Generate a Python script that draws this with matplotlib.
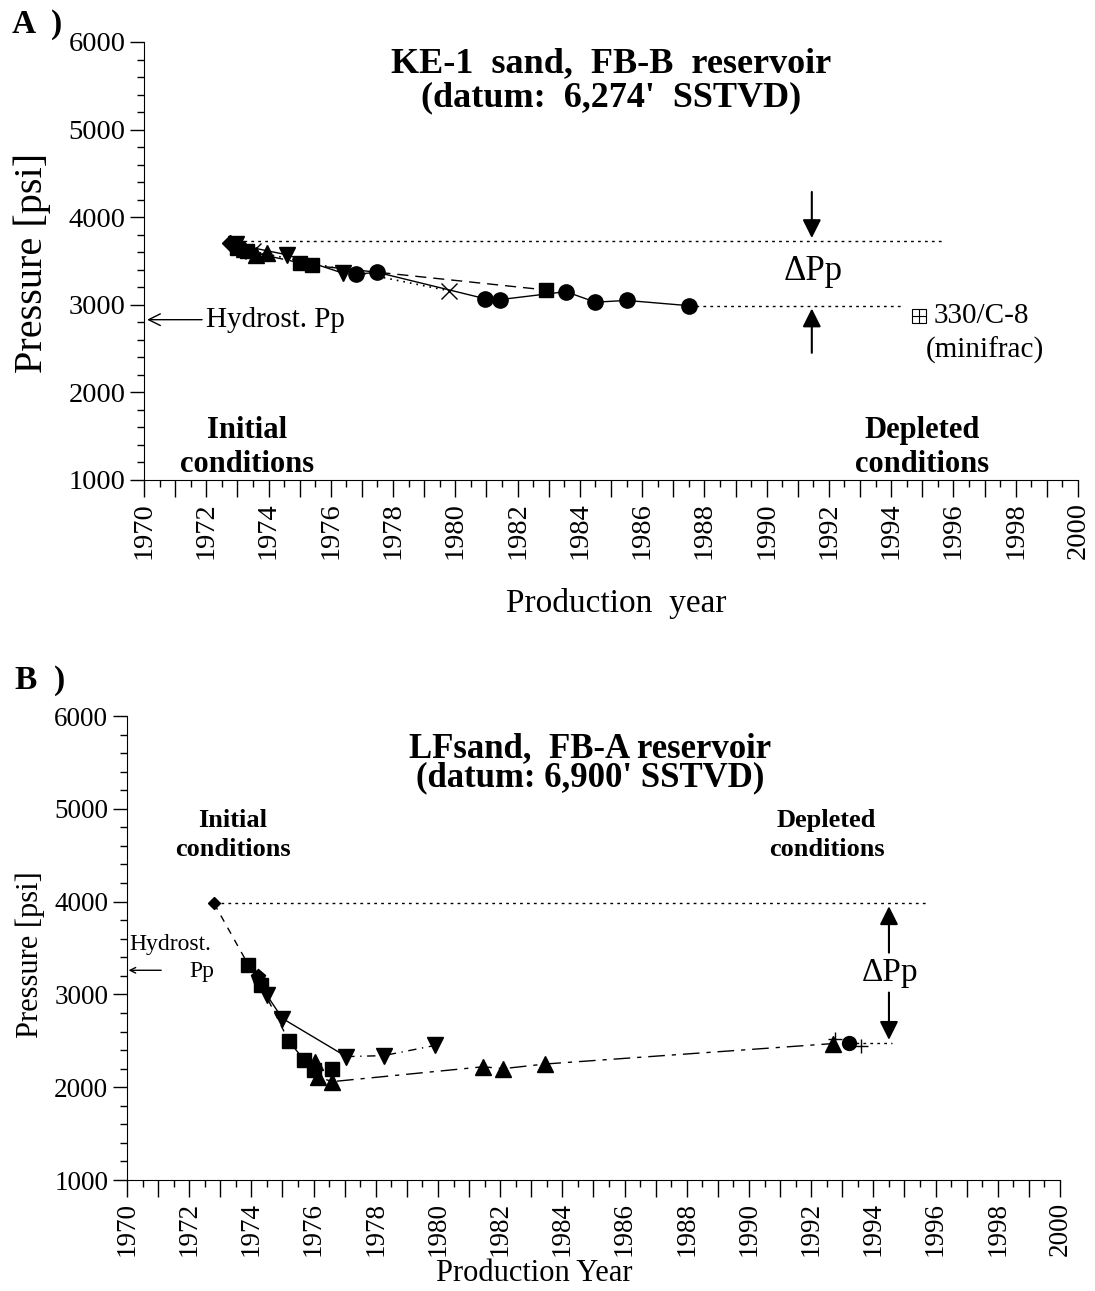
import matplotlib
matplotlib.use("Agg")
import matplotlib.pyplot as plt
from matplotlib.ticker import MultipleLocator, FuncFormatter

plt.rcParams["font.family"] = ["Liberation Serif", "DejaVu Serif"]

# ---- panel A data (KE-1 sand, FB-B reservoir) ----
a_dia_x = [1972.75]
a_dia_y = [3710]
a_sq_x = [1973.0, 1973.3, 1975.0, 1975.4, 1982.9]
a_sq_y = [3650, 3610, 3480, 3450, 3170]
a_up_x = [1973.2, 1973.6, 1973.95]
a_up_y = [3640, 3570, 3590]
a_dn_x = [1972.95, 1974.6, 1976.4]
a_dn_y = [3690, 3570, 3360]
a_x_x = [1973.5, 1979.8]
a_x_y = [3610, 3160]
a_ci_x = [1976.8, 1977.5, 1980.95, 1981.45, 1983.55, 1984.5, 1985.5, 1987.5]
a_ci_y = [3350, 3370, 3070, 3060, 3150, 3030, 3050, 2990]
a_initial = 3730
a_depleted = 2990
a_hydro = 2830
a_minifrac_x = [1994.9]
a_minifrac_y = [2870]

# ---- panel B data (LF sand, FB-A reservoir) ----
b_dia_x = [1972.8]
b_dia_y = [3980]
b_sq_x = [1973.9, 1974.3, 1975.2, 1975.7, 1976.0, 1976.6]
b_sq_y = [3320, 3100, 2500, 2290, 2190, 2200]
b_pe_x = [1974.2]
b_pe_y = [3190]
b_dn_x = [1974.5, 1975.0, 1977.05, 1978.25, 1979.9]
b_dn_y = [2990, 2740, 2330, 2340, 2450]
b_up_x = [1976.05, 1976.15, 1976.6, 1981.45, 1982.1, 1983.45, 1992.7]
b_up_y = [2270, 2110, 2060, 2220, 2200, 2250, 2470]
b_ci_x = [1993.2]
b_ci_y = [2480]
b_pl_x = [1992.75, 1993.6]
b_pl_y = [2520, 2440]
b_initial = 3980
b_depleted = 2480
b_hydro = 3260


def style_axes(ax, tick_size):
    ax.set_xlim(1970, 2000)
    ax.set_ylim(1000, 6000)
    for s in ("top", "right"):
        ax.spines[s].set_visible(False)
    ax.xaxis.set_major_locator(MultipleLocator(1))
    ax.xaxis.set_minor_locator(MultipleLocator(0.5))
    ax.xaxis.set_major_formatter(
        FuncFormatter(lambda v, p: f"{int(round(v))}" if int(round(v)) % 2 == 0 else ""))
    ax.yaxis.set_major_locator(MultipleLocator(1000))
    ax.yaxis.set_minor_locator(MultipleLocator(200))
    ax.tick_params(axis="x", which="major", direction="out", length=12, width=1,
                   labelsize=tick_size, labelrotation=90, pad=4)
    ax.tick_params(axis="x", which="minor", direction="out", length=5, width=1)
    ax.tick_params(axis="y", which="major", direction="out", length=10, width=1,
                   labelsize=tick_size)
    ax.tick_params(axis="y", which="minor", direction="out", length=5, width=1)


fig = plt.figure(figsize=(10.95, 12.91), dpi=100)

# ================= panel A =================
ax = fig.add_axes([144 / 1095, 1 - 480 / 1291, 934 / 1095, 438 / 1291])
style_axes(ax, 20.5)

ax.plot([a_dia_x[0], 1995.7], [a_initial, a_initial], ls=(0, (2, 3)), color="k", lw=1)
ax.plot([a_ci_x[-1], 1994.3], [a_depleted, a_depleted], ls=(0, (2, 3)), color="k", lw=1)

ax.plot(a_sq_x, a_sq_y, ls=(0, (8, 5)), color="k", lw=1, marker="s", ms=10)
ax.plot(a_dn_x, a_dn_y, ls="-", color="k", lw=1, marker="v", ms=11)
ax.plot(a_up_x, a_up_y, ls="-", color="k", lw=1, marker="^", ms=11)
ax.plot(a_x_x, a_x_y, ls=(0, (1, 3)), color="k", lw=1.2, marker="x", ms=11, mew=1)
ax.plot(a_ci_x, a_ci_y, ls="-", color="k", lw=1, marker="o", ms=11)
ax.plot(a_dia_x, a_dia_y, ls="none", color="k", marker="D", ms=8)

ax.plot(a_minifrac_x, a_minifrac_y, ls="none", marker="s", ms=10, mfc="white",
        mec="k", mew=0.8)
ax.plot(a_minifrac_x, a_minifrac_y, ls="none", marker="+", ms=10, color="k", mew=0.8)
ax.text(1995.35, a_minifrac_y[0], "330/C-8", fontsize=21, va="center", ha="left")
ax.text(1995.1, 2480, "(minifrac)", fontsize=21, va="center", ha="left")

ax.annotate("", xy=(1991.45, a_initial), xytext=(1991.45, 4320),
            arrowprops=dict(arrowstyle="-|>", color="k", lw=1.5, mutation_scale=28))
ax.annotate("", xy=(1991.45, a_depleted), xytext=(1991.45, 2420),
            arrowprops=dict(arrowstyle="-|>", color="k", lw=1.5, mutation_scale=28))
ax.text(1991.5, 3380, "ΔPp", fontsize=25, ha="center", va="center")

ax.annotate("Hydrost. Pp", xy=(1970.1, a_hydro), xytext=(1972.0, a_hydro),
            fontsize=21, va="center", ha="left",
            arrowprops=dict(arrowstyle="->", color="k", lw=1, shrinkA=1, shrinkB=0))

ax.text(1985.0, 5560, "KE-1  sand,  FB-B  reservoir\n(datum:  6,274'  SSTVD)",
        fontsize=26, fontweight="bold", ha="center", va="center", linespacing=1.05)
ax.text(1973.3, 1370, "Initial\nconditions", fontsize=22, fontweight="bold",
        ha="center", va="center", linespacing=1.2)
ax.text(1995.0, 1370, "Depleted\nconditions", fontsize=22, fontweight="bold",
        ha="center", va="center", linespacing=1.2)

ax.set_ylabel("Pressure [psi]", fontsize=29)
ax.yaxis.set_label_coords(-0.1, 0.495)
ax.set_xlabel("Production  year", fontsize=24)
ax.xaxis.set_label_coords(0.506, -0.247)

fig.text(12 / 1095, 1 - 24 / 1291, "A  )", fontsize=24, fontweight="bold",
         ha="left", va="center")

# ================= panel B =================
bx = fig.add_axes([127 / 1095, 1 - 1180 / 1291, 933 / 1095, 464 / 1291])
style_axes(bx, 19.5)

bx.plot([b_dia_x[0], 1995.7], [b_initial, b_initial], ls=(0, (2, 3)), color="k", lw=1)
bx.plot([b_ci_x[0], 1994.6], [b_depleted, b_depleted], ls=(0, (2, 3)), color="k", lw=1)

bx.plot(b_dia_x + b_sq_x, b_dia_y + b_sq_y, ls=(0, (5, 5)), color="k", lw=1)
bx.plot(b_sq_x, b_sq_y, ls="none", color="k", marker="s", ms=10)
bx.plot(b_pe_x, b_pe_y, ls="none", color="k", marker="p", ms=11)
bx.plot(b_dn_x[:3], b_dn_y[:3], ls="-", color="k", lw=1)
bx.plot(b_dn_x[2:], b_dn_y[2:], ls=(0, (6, 4, 1, 4)), color="k", lw=1)
bx.plot(b_dn_x, b_dn_y, ls="none", color="k", marker="v", ms=11)
bx.plot(b_up_x, b_up_y, ls=(0, (12, 5, 3, 5)), color="k", lw=1, marker="^", ms=11)
bx.plot(b_pl_x, b_pl_y, ls="none", color="k", marker="+", ms=10, mew=1)
bx.plot(b_ci_x, b_ci_y, ls="none", color="k", marker="o", ms=10)
bx.plot(b_dia_x, b_dia_y, ls="none", color="k", marker="D", ms=6)

bx.annotate("", xy=(1994.5, b_initial), xytext=(1994.5, 3420),
            arrowprops=dict(arrowstyle="-|>", color="k", lw=1.5, mutation_scale=28))
bx.annotate("", xy=(1994.5, b_depleted), xytext=(1994.5, 3050),
            arrowprops=dict(arrowstyle="-|>", color="k", lw=1.5, mutation_scale=28))
bx.text(1994.55, 3230, "ΔPp", fontsize=24, ha="center", va="center")

bx.annotate("", xy=(1970.05, b_hydro), xytext=(1971.1, b_hydro),
            arrowprops=dict(arrowstyle="->", color="k", lw=1, shrinkA=0, shrinkB=0))
bx.text(1971.4, 3540, "Hydrost.", fontsize=17, ha="center", va="center")
bx.text(1972.4, 3250, "Pp", fontsize=17, ha="center", va="center")

bx.text(1984.9, 5490, "LFsand,  FB-A reservoir\n(datum: 6,900' SSTVD)",
        fontsize=25, fontweight="bold", ha="center", va="center", linespacing=0.85)
bx.text(1973.4, 4720, "Initial\nconditions", fontsize=19, fontweight="bold",
        ha="center", va="center", linespacing=1.35)
bx.text(1992.5, 4720, "Depleted\nconditions", fontsize=19, fontweight="bold",
        ha="center", va="center", linespacing=1.35)

bx.set_ylabel("Pressure [psi]", fontsize=22)
bx.yaxis.set_label_coords(-0.088, 0.485)
bx.set_xlabel("Production Year", fontsize=22)
bx.xaxis.set_label_coords(0.437, -0.17)

fig.text(15 / 1095, 1 - 680 / 1291, "B  )", fontsize=24, fontweight="bold",
         ha="left", va="center")

fig.savefig("out.png", dpi=100)
